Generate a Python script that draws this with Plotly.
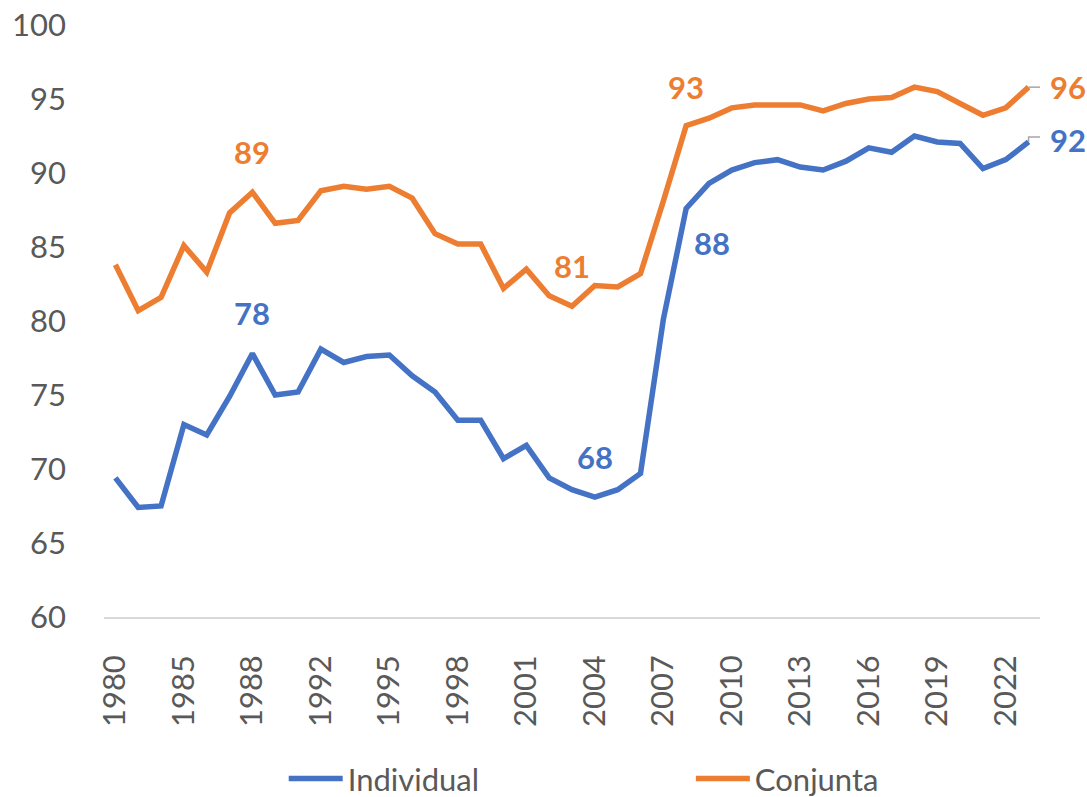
import plotly.graph_objects as go

# ---------------- data ----------------
years = [1980, 1982, 1984, 1985, 1986, 1987, 1988, 1989, 1990] + list(range(1992, 2024))
categories = [str(y) for y in years]

individual = [69.4, 67.4, 67.5, 73.0, 72.3, 74.9, 77.8, 75.0, 75.2, 78.1,
              77.2, 77.6, 77.7, 76.3, 75.2, 73.3, 73.3, 70.7, 71.6, 69.4,
              68.6, 68.1, 68.6, 69.7, 80.1, 87.6, 89.3, 90.2, 90.7, 90.9,
              90.4, 90.2, 90.8, 91.7, 91.4, 92.5, 92.1, 92.0, 90.3, 90.9,
              92.1]
conjunta = [83.8, 80.7, 81.6, 85.1, 83.3, 87.3, 88.7, 86.6, 86.8, 88.8,
            89.1, 88.9, 89.1, 88.3, 85.9, 85.2, 85.2, 82.2, 83.5, 81.7,
            81.0, 82.4, 82.3, 83.2, 88.1, 93.2, 93.7, 94.4, 94.6, 94.6,
            94.6, 94.2, 94.7, 95.0, 95.1, 95.8, 95.5, 94.7, 93.9, 94.4,
            95.8]

series_names = ["Individual", "Conjunta"]
tick_labels = categories[::3]
y_ticks = [60, 65, 70, 75, 80, 85, 90, 95, 100]

# labelled points (year) per series
labelled_individual = ["1988", "2004", "2008", "2023"]
labelled_conjunta = ["1988", "2003", "2008", "2023"]

# ---------------- style ----------------
BLUE = "#4472C4"
ORANGE = "#ED7D31"
GREY = "#595959"
FONT = "Lato, 'Open Sans', sans-serif"
FS = 31

fig = go.Figure()
fig.add_trace(go.Scatter(x=categories, y=individual, mode="lines", name=series_names[0],
                         line=dict(color=BLUE, width=5.5), legend="legend"))
fig.add_trace(go.Scatter(x=categories, y=conjunta, mode="lines", name=series_names[1],
                         line=dict(color=ORANGE, width=5.5), legend="legend2"))

# label offsets (pixels) keyed by (series, year)
offsets = {
    ("ind", "1988"): (0, 41), ("ind", "2004"): (0, 40), ("ind", "2008"): (26, -34), ("ind", "2023"): (39, 2),
    ("con", "1988"): (0, 40), ("con", "2003"): (0, 40), ("con", "2008"): (0, 39), ("con", "2023"): (39, 0),
}

annotations = []
for key, vals, labs, col in [("ind", individual, labelled_individual, BLUE),
                             ("con", conjunta, labelled_conjunta, ORANGE)]:
    for yr in labs:
        i = categories.index(yr)
        dx, dy = offsets[(key, yr)]
        annotations.append(dict(x=i, y=vals[i], xref="x", yref="y", text=f"<b>{round(vals[i])}</b>",
                                showarrow=False, xshift=dx, yshift=dy,
                                font=dict(family=FONT, size=FS, color=col)))

# leader lines for the last labels
last_i = len(categories) - 1
shapes = [
    dict(type="path", xref="x", yref="y", xsizemode="pixel", ysizemode="pixel",
         xanchor=last_i, yanchor=conjunta[-1], path="M0,0 L12,0",
         line=dict(color="#A6A6A6", width=1.5)),
    dict(type="path", xref="x", yref="y", xsizemode="pixel", ysizemode="pixel",
         xanchor=last_i, yanchor=individual[-1], path="M0,0 L0,5 L12,5",
         line=dict(color="#A6A6A6", width=1.5)),
]

W, H = 1087, 797
ml, mt = 103.5, 25.3
plot_w, plot_h = 936.1, 592.0
mr, mb = W - ml - plot_w, H - mt - plot_h

fig.update_layout(
    width=W, height=H,
    margin=dict(l=ml, r=mr, t=mt, b=mb, autoexpand=False),
    paper_bgcolor="white", plot_bgcolor="white",
    font=dict(family=FONT, size=FS, color=GREY),
    annotations=annotations,
    shapes=shapes,
    legend=dict(orientation="h", x=0.192, xanchor="left", y=-0.2735, yanchor="middle",
                itemwidth=54, font=dict(family=FONT, size=FS, color=GREY), bgcolor="rgba(0,0,0,0)"),
    legend2=dict(orientation="h", x=0.627, xanchor="left", y=-0.2735, yanchor="middle",
                 itemwidth=54, font=dict(family=FONT, size=FS, color=GREY), bgcolor="rgba(0,0,0,0)"),
    showlegend=True,
)
fig.update_xaxes(type="category", range=[-0.5, len(categories) - 0.5],
                 tickmode="array", tickvals=tick_labels, ticktext=tick_labels,
                 tickangle=-90, showgrid=False, zeroline=False,
                 showline=True, linecolor="#D9D9D9", linewidth=1.5,
                 ticks="", ticklabelstandoff=24, ticklabeloverflow="allow",
                 tickfont=dict(family=FONT, size=FS, color=GREY))
fig.update_yaxes(range=[60, 100], tickmode="array", tickvals=y_ticks,
                 showgrid=False, zeroline=False, showline=False, ticks="",
                 ticklabelstandoff=37, ticklabeloverflow="allow",
                 tickfont=dict(family=FONT, size=FS, color=GREY))

fig.write_html("out.html", config={"displayModeBar": False},
               post_script="document.body.style.margin='0';document.body.style.overflow='hidden';")
